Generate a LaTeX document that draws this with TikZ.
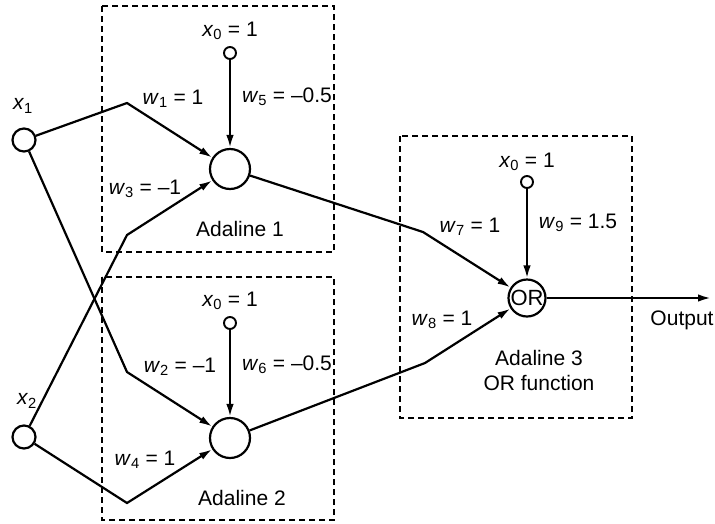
\documentclass[tikz,border=0pt]{standalone}
\usepackage{fontspec}
\setmainfont{Liberation Sans}
\usetikzlibrary{arrows.meta}

% italic variable with an upright subscript
\newcommand\vsub[2]{\textit{#1}\textsubscript{#2}}

\begin{document}
\begin{tikzpicture}[x=1pt,y=-1pt,
  wire/.style={line width=2.2pt},
  arr/.style={wire,-{Latex[length=13pt,width=7.5pt]}},
  frame/.style={line width=1.3pt,dash pattern=on 6pt off 4pt},
  unit/.style={circle,draw,line width=2.2pt,minimum size=40pt,inner sep=0pt},
  orunit/.style={circle,draw,line width=2.2pt,minimum size=37pt,inner sep=0pt,
    font=\fontsize{22}{26}\selectfont},
  innode/.style={circle,draw,line width=2.2pt,minimum size=23pt,inner sep=0pt},
  bias/.style={circle,draw,line width=1.9pt,minimum size=12pt,inner sep=0pt},
  txt/.style={font=\fontsize{21}{25}\selectfont,inner sep=1pt},
]
\useasboundingbox (0,0) rectangle (715,523);

% dashed frames of the three Adaline units
\draw[frame] (102,6) rectangle (334,252);
\draw[frame] (102,277) rectangle (334,520);
\draw[frame] (400,136) rectangle (632,418);

% inputs
\node[innode] (x1) at (24,140) {};
\node[innode] (x2) at (24,437) {};
\node[txt] (lx1) at (23,106) {\vsub{x}{1}};
\node[txt] (lx2) at (27,401) {\vsub{x}{2}};

% Adaline units
\node[unit] (A1) at (230,169) {};
\node[unit] (A2) at (230,438) {};
\node[orunit] (OR) at (527,298) {OR};

% bias inputs
\node[bias] (b1) at (230,53) {};
\node[bias] (b2) at (230,323) {};
\node[bias] (b3) at (527,182) {};
\node[txt] (lb1) at (230,31) {\vsub{x}{0} = 1};
\node[txt] (lb2) at (230,301) {\vsub{x}{0} = 1};
\node[txt] (lb3) at (527,162) {\vsub{x}{0} = 1};

% bend points of the connectors
\coordinate (k1) at (127,103);
\coordinate (k3) at (127,235);
\coordinate (k2) at (127,372);
\coordinate (k4) at (127,503);
\coordinate (k7) at (423,232);
\coordinate (k8) at (425,363);
\coordinate (out) at (711,298);

% connectors
\draw[arr] (x1) -- (k1) -- (A1);
\draw[arr] (x2) -- (k3) -- (A1);
\draw[arr] (x1) -- (k2) -- (A2);
\draw[arr] (x2) -- (k4) -- (A2);
\draw[arr] (b1) -- (A1);
\draw[arr] (b2) -- (A2);
\draw[arr] (b3) -- (OR);
\draw[arr] (A1) -- (k7) -- (OR);
\draw[arr] (A2) -- (k8) -- (OR);
\draw[arr] (OR) -- (out);

% weights
\node[txt] (w1) at (173,99) {\vsub{w}{1} = 1};
\node[txt] (w5) at (287,97) {\vsub{w}{5} = –0.5};
\node[txt] (w3) at (145,189) {\vsub{w}{3} = –1};
\node[txt] (w2) at (180,367) {\vsub{w}{2} = –1};
\node[txt] (w6) at (287,365) {\vsub{w}{6} = –0.5};
\node[txt] (w4) at (145,460) {\vsub{w}{4} = 1};
\node[txt] (w7) at (470,227) {\vsub{w}{7} = 1};
\node[txt] (w9) at (578,223) {\vsub{w}{9} = 1.5};
\node[txt] (w8) at (442,320) {\vsub{w}{8} = 1};

% unit captions
\node[txt] (c1) at (240,229) {Adaline 1};
\node[txt] (c2) at (242,498) {Adaline 2};
\node[txt,align=center] (c3) at (539,370) {Adaline 3\\OR function};
\node[txt] (co) at (682,320) {Output};
\end{tikzpicture}
\end{document}
